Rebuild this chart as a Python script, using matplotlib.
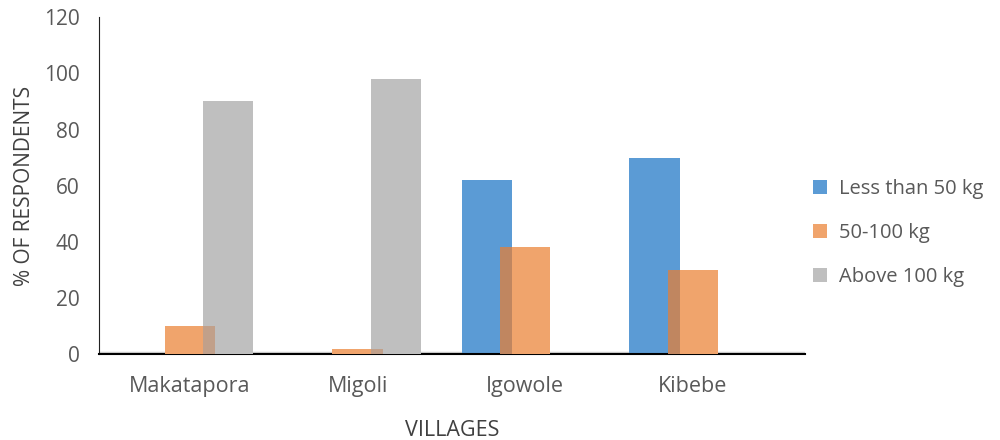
import matplotlib.pyplot as plt
import numpy as np

villages = ["Makatapora", "Migoli", "Igowole", "Kibebe"]
less_50 = [0, 0, 62, 70]
mid_50_100 = [10, 2, 38, 30]
above_100 = [90, 98, 0, 0]
labels = ["Less than 50 kg", "50-100 kg", "Above 100 kg"]
colors = ["#5B9BD5", "#F0A46C", "#BFBFBF"]

plt.rcParams['font.family'] = ['Open Sans', 'DejaVu Sans']

fig = plt.figure(figsize=(10, 4.4), dpi=100)
ax = fig.add_axes([0.099, 0.195, 0.706, 0.766])

x = np.arange(len(villages))
w = 0.30
off = 0.228
series = [less_50, mid_50_100, above_100]
for i, (vals, lab, col) in enumerate(zip(series, labels, colors)):
    ax.bar(x + (i - 1) * off, vals, w, color=col, label=lab, zorder=2 + i)

# darker patch where neighbouring bars overlap
for i, col in [(0, "#C08660"), (1, "#C1A08A")]:
    lo = np.minimum(series[i], series[i + 1])
    ax.bar(x + (i - 0.5) * off, lo, w - off, color=col, zorder=6)

ax.axhline(0.3, color="#D0D0D0", lw=2.5, zorder=1)
ax.set_xlim(-0.543, 3.67)
ax.set_ylim(0, 120)
ax.set_yticks(range(0, 121, 20))
ax.set_xticks(x)
ax.set_xticklabels(villages)
ax.tick_params(length=0, labelsize=15.5, colors="#595959", pad=16)
ax.tick_params(axis="y", labelsize=15, pad=14)
for s in ["top", "right"]:
    ax.spines[s].set_visible(False)
ax.spines["left"].set_color("#222222")
ax.spines["bottom"].set_color("#000000")
ax.spines["bottom"].set_linewidth(1.5)

ax.set_ylabel("% OF RESPONDENTS", fontsize=15, color="#404040", labelpad=6)
ax.set_xlabel("VILLAGES", fontsize=15.5, color="#404040", labelpad=16)

leg = fig.legend(loc="center left", bbox_to_anchor=(0.795, 0.47), frameon=False,
                 fontsize=14.5, labelspacing=1.2, handlelength=0.7, handleheight=0.7,
                 handletextpad=0.6, labelcolor="#595959")

fig.savefig("out.png", dpi=100)
